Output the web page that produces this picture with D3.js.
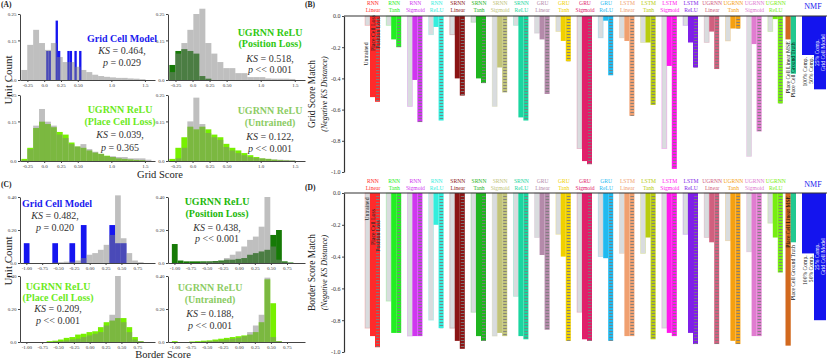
<!DOCTYPE html>
<html><head><meta charset="utf-8">
<script src="https://cdn.jsdelivr.net/npm/d3@7/dist/d3.min.js"></script>
<style>
html,body{margin:0;padding:0;background:#fff;}
svg{display:block;}
text{font-family:"Liberation Serif","Times New Roman",serif;}
</style></head>
<body><svg id="chart" width="830" height="361"></svg>
<script>
// ================= DATA =================
// Histogram axes (panels A and C)
const gridTicks = [-0.25, 0, 0.25, 0.5, 1.0, 1.5];
const gridTickLabels = ["-0.25", "0.0", "0.25", "0.50", "1.0", "1.5"];
const gridYTicks = [0, 0.15, 0.25];
const gridYTickLabels = ["0.0", "0.15", "0.25"];
const borderTicks = [-1, -0.75, -0.5, -0.25, 0, 0.25, 0.5, 0.75];
const borderTickLabels = ["-1.00", "-0.75", "-0.50", "-0.25", "0.00", "0.25", "0.50", "0.75"];
const borderYTicks = [0, 0.2, 0.4];
const borderYTickLabels = ["0.0", "0.20", "0.40"];

// Grid score histograms (bin start, bin width, fraction of units per bin)
const gridBinStart = -0.34, gridBinWidth = 0.088;
const gridRealTL = [0.038,0.133,0.19,0.14,0.114,0.14,0.087,0.068,0.068,0.05,0.038,0.03,0.02,0.015,0.012,0.01,0.008,0.008,0.006,0.005,0.003];
const gridModelBinStart = 0.03, gridModelBinWidth = 0.035;
const gridModelTL = [0.11,0.11,0,0,0.225,0.11,0,0,0,0.11,0.11,0,0.11,0,0.11];
const gridRealTR = [0.03,0.1,0.14,0.19,0.25,0.27,0.14,0.1,0.068,0.045,0.045,0.026,0.026,0.011,0.011,0.011,0.006,0.005,0.005,0.005,0.004];
const gridPositionTR = [0.057,0.11,0.117,0.11,0.1,0.015,0.005];
const gridRealBL = [0.003,0.045,0.134,0.197,0.149,0.134,0.1,0.087,0.064,0.055,0.064,0.045,0.035,0.027,0.018,0.018,0.015,0.015,0.01,0.01,0.01,0.005];
const gridPlaceBL = [0.008,0.05,0.125,0.149,0.14,0.128,0.11,0.1,0.07,0.055,0.05,0.04,0.032,0.027,0.02,0.015,0.01,0.008,0.006,0.004,0.003];
const gridRealBR = [0,0.01,0.05,0.15,0.24,0.14,0.106,0.09,0.08,0.053,0.04,0.03,0.022,0.015,0.012,0.01,0.008,0.006,0.005,0.004,0.003];
const gridUntrainedBR = [0.008,0.05,0.09,0.13,0.12,0.13,0.12,0.1,0.09,0.065,0.05,0.04,0.03,0.022,0.015,0.01,0.008,0.005,0.003,0.002,0.001];

// Border score histograms
const borderBinStart = -1.04, borderBinWidth = 0.09;
const borderRealTL = [0,0,0,0,0,0.003,0.005,0.008,0.008,0.015,0.03,0.05,0.06,0.08,0.11,0.17,0.41,0.15,0.06,0.015,0.005,0];
const borderModelTL = [0.12,0,0,0,0,0.12,0,0,0.12,0,0.23,0,0,0,0,0.23,0.12,0.12,0,0,0,0];
const borderRealTR = [0,0,0,0,0,0.005,0.008,0.01,0.01,0.03,0.05,0.07,0.1,0.14,0.16,0.22,0.40,0.1,0.02,0.005,0,0];
const borderPositionTR = [0.115,0.015,0.01,0.01,0.01,0.01,0.01,0.012,0.015,0.02,0.02,0.025,0.03,0.05,0.06,0.07,0.08,0.17,0.20,0.01,0.003,0];
const borderRealBL = [0,0,0,0,0,0.003,0.005,0.01,0.015,0.02,0.03,0.04,0.05,0.06,0.1,0.165,0.40,0.12,0.06,0.015,0.005,0];
const borderPlaceBL = [0,0,0,0,0.005,0.008,0.015,0.025,0.03,0.045,0.05,0.06,0.065,0.09,0.12,0.13,0.145,0.145,0.09,0.03,0.005,0];
const borderRealBR = [0,0,0,0,0,0.003,0.005,0.008,0.01,0.015,0.02,0.025,0.035,0.06,0.1,0.165,0.39,0.03,0.005,0,0,0];
const borderUntrainedBR = [0.005,0,0,0.003,0.005,0.008,0.01,0.015,0.02,0.025,0.03,0.035,0.04,0.045,0.06,0.12,0.38,0.235,0.005,0,0,0];

// Panels B and D: model categories and match scores (negative KS distance)
const models = ["RNN Linear","RNN Tanh","RNN Sigmoid","RNN ReLU","SRNN Linear","SRNN Tanh","SRNN Sigmoid","SRNN ReLU",
  "GRU Linear","GRU Tanh","GRU Sigmoid","GRU ReLU","LSTM Linear","LSTM Tanh","LSTM Sigmoid","LSTM ReLU",
  "UGRNN Linear","UGRNN Tanh","UGRNN Sigmoid","UGRNN ReLU"];
const modelColors = ["#ff2a2a","#22ee22","#cf36ef","#33eedd","#8b1515","#1fb51f","#c2c47a","#1ad6a0",
  "#b48aaa","#f0d000","#e0206a","#1fbaf0","#f0a070","#b8cc10","#ff18ec","#7f1fe8",
  "#d0607e","#f5a010","#e07cd0","#77ee11"];
const matchTicks = [0, -0.2, -0.4, -0.6, -0.8, -1.0];

const gridUntrained = [-0.06,-0.06,-0.58,-0.12,-0.12,-0.04,-0.58,-0.06,-0.11,-0.10,-0.85,-0.14,-0.14,-0.17,-0.85,-0.06,-0.17,-0.16,-0.90,-0.10];
const gridPlace     = [-0.52,-0.15,-0.41,-0.07,-0.40,-0.40,-0.33,-0.65,-0.15,-0.16,-0.93,-0.03,-0.16,-0.17,-0.32,-0.17,-0.10,-0.08,-0.18,-0.02];
const gridPosition  = [-0.55,-0.20,-0.68,-0.67,-0.51,-0.43,-0.49,-0.67,-0.50,-0.29,-0.95,-0.38,-0.64,-0.57,-0.98,-0.33,-0.34,-0.08,-0.74,-0.56];
const borderUntrained = [-0.85,-0.68,-0.90,-0.80,-0.85,-0.75,-0.90,-0.65,-0.28,-0.26,-0.75,-0.40,-0.38,-0.38,-0.85,-0.26,-0.28,-0.30,-0.37,-0.19];
const borderPlace     = [-0.90,-0.88,-0.90,-0.20,-0.93,-0.90,-0.88,-0.90,-0.39,-0.40,-0.92,-0.41,-0.90,-0.28,-0.88,-0.88,-0.31,-0.93,-0.90,-0.28];
const borderPosition  = [-0.97,-0.88,-0.90,-0.85,-0.98,-0.93,-0.90,-0.92,-0.86,-0.93,-0.93,-0.93,-0.90,-0.92,-0.90,-0.95,-0.95,-0.95,-0.90,-0.50];

const refNames = ["Place Cell Linear MSE", "Place Cell Ground Truth"];
const refColors = ["#d2691e", "#22c890"];
const gridRef = [-0.15, -0.37];
const borderRef = [-0.96, -0.31];
const nmfNames = ["100% Comp.", "50% Comp.", "25% Comp.", "Grid Cell Model"];
const gridNMF = [-0.25, -0.25, -0.47, -0.47];
const borderNMF = [-0.38, -0.38, -0.80, -0.80];

// ================= DRAWING =================
const FONT = '"Liberation Serif","Times New Roman",serif';
const svg = d3.select("#chart");
const GRAY = "#808080";

svg.append("defs").append("pattern").attr("id","hatch").attr("patternUnits","userSpaceOnUse")
  .attr("width", 10).attr("height", 3)
  .append("line").attr("x1",0).attr("x2",10).attr("y1",1.5).attr("y2",1.5)
  .attr("stroke","#7d7d7d").attr("stroke-width",0.9);

function styleAxis(a, size) {
  a.selectAll("text").attr("font-size", size).attr("fill", "#333").attr("font-family", FONT);
  a.select(".domain").attr("stroke", "#444");
  a.selectAll(".tick line").attr("stroke", "#444");
}

function drawHist(p, layers, xDomain, yMax, xt, xtl, yt, ytl) {
  const g = svg.append("g");
  const x = d3.scaleLinear().domain(xDomain).range([p.left, p.right]);
  const y = d3.scaleLinear().domain([0, yMax]).range([p.bottom, p.top]);
  layers.forEach(L => {
    const bins = L.counts.map((c, i) => ({x0: L.start + i * L.width, x1: L.start + (i + 1) * L.width, c}))
      .filter(b => b.c > 0);
    g.append("g").selectAll("rect").data(bins).join("rect")
      .attr("x", b => x(b.x0)).attr("width", b => Math.max(0, x(b.x1) - x(b.x0)))
      .attr("y", b => y(b.c)).attr("height", b => y(0) - y(b.c))
      .attr("fill", L.color).attr("fill-opacity", L.opacity);
  });
  const xa = g.append("g").attr("transform", `translate(0,${p.bottom})`)
    .call(d3.axisBottom(x).tickValues(xt).tickFormat((d, i) => xtl[i]).tickSize(2).tickSizeOuter(0).tickPadding(1.5));
  const ya = g.append("g").attr("transform", `translate(${p.left},0)`)
    .call(d3.axisLeft(y).tickValues(yt).tickFormat((d, i) => ytl[i]).tickSize(2).tickSizeOuter(0).tickPadding(1.5));
  styleAxis(xa, 5); styleAxis(ya, 5);
}

function statText(x, anchor, ys, titleLines, color, ks, pPart, titleAnchorX, titleAnchor) {
  const g = svg.append("g").attr("font-family", FONT);
  titleLines.forEach((t, i) => {
    g.append("text").attr("x", titleAnchorX ?? x).attr("y", ys[i]).attr("text-anchor", titleAnchor ?? anchor)
      .attr("font-size", 10).attr("font-weight", "bold").attr("fill", color).text(t);
  });
  const k = g.append("text").attr("x", x).attr("y", ys[titleLines.length]).attr("text-anchor", anchor)
    .attr("font-size", 10).attr("fill", "#333");
  k.append("tspan").attr("font-style", "italic").text("KS");
  k.append("tspan").text(" = " + ks + ",");
  const pt = g.append("text").attr("x", x).attr("y", ys[titleLines.length + 1]).attr("text-anchor", anchor)
    .attr("font-size", 10).attr("fill", "#333");
  pt.append("tspan").attr("font-style", "italic").text("p");
  pt.append("tspan").text(" " + pPart);
}

const A = {TL:{left:20,right:155,top:14,bottom:80}, TR:{left:168,right:305,top:14,bottom:80},
           BL:{left:20,right:155,top:95,bottom:161}, BR:{left:168,right:305,top:95,bottom:161}};
const C = {TL:{left:20,right:155,top:197,bottom:263}, TR:{left:168,right:305,top:197,bottom:263},
           BL:{left:20,right:155,top:276,bottom:342}, BR:{left:168,right:305,top:276,bottom:342}};
const gDom = [-0.36, 1.65], bDom = [-1.1, 1.03];
const BLUE = "#1515f0", DKGREEN = "#167a06", LGREEN = "#77f000";

function gl(counts, color, op) { return {start: gridBinStart, width: gridBinWidth, counts, color, opacity: op}; }
function bl(counts, color, op) { return {start: borderBinStart, width: borderBinWidth, counts, color, opacity: op}; }

drawHist(A.TL, [{start: gridModelBinStart, width: gridModelBinWidth, counts: gridModelTL, color: BLUE, opacity: 1}, gl(gridRealTL, GRAY, 0.5)],
  gDom, 0.25, gridTicks, gridTickLabels, gridYTicks, gridYTickLabels);
drawHist(A.TR, [gl(gridPositionTR, DKGREEN, 1), gl(gridRealTR, GRAY, 0.5)], gDom, 0.25, gridTicks, gridTickLabels, gridYTicks, gridYTickLabels);
drawHist(A.BL, [gl(gridPlaceBL, LGREEN, 1), gl(gridRealBL, GRAY, 0.5)], gDom, 0.25, gridTicks, gridTickLabels, gridYTicks, gridYTickLabels);
drawHist(A.BR, [gl(gridUntrainedBR, LGREEN, 1), gl(gridRealBR, GRAY, 0.5)], gDom, 0.25, gridTicks, gridTickLabels, gridYTicks, gridYTickLabels);

drawHist(C.TL, [bl(borderModelTL, BLUE, 1), bl(borderRealTL, GRAY, 0.5)], bDom, 0.4, borderTicks, borderTickLabels, borderYTicks, borderYTickLabels);
drawHist(C.TR, [bl(borderPositionTR, DKGREEN, 1), bl(borderRealTR, GRAY, 0.5)], bDom, 0.4, borderTicks, borderTickLabels, borderYTicks, borderYTickLabels);
drawHist(C.BL, [bl(borderPlaceBL, LGREEN, 1), bl(borderRealBL, GRAY, 0.5)], bDom, 0.4, borderTicks, borderTickLabels, borderYTicks, borderYTickLabels);
drawHist(C.BR, [bl(borderUntrainedBR, LGREEN, 1), bl(borderRealBR, GRAY, 0.5)], bDom, 0.4, borderTicks, borderTickLabels, borderYTicks, borderYTickLabels);

// annotations
statText(122, "middle", [41.5, 53.5, 65.5], ["Grid Cell Model"], "#1a1aee", "0.464", "= 0.029");
statText(270, "middle", [35.5, 47, 62, 73], ["UGRNN ReLU", "(Position Loss)"], "#2fc812", "0.518", "<< 0.001");
statText(120, "middle", [112.5, 124.5, 137.5, 150.5], ["UGRNN ReLU", "(Place Cell Loss)"], "#6cea1c", "0.039", "= 0.365");
statText(270, "middle", [113.5, 125.5, 139.5, 151.5], ["UGRNN ReLU", "(Untrained)"], "#8ccc64", "0.122", "<< 0.001");
statText(55, "middle", [206.5, 218.5, 230.5], ["Grid Cell Model"], "#1a1aee", "0.482", "= 0.020", 22, "start");
statText(217, "middle", [204.5, 216.5, 231, 242], ["UGRNN ReLU", "(Position Loss)"], "#22b80a", "0.438", "<< 0.001");
statText(58, "middle", [289.5, 300.5, 312, 323.5], ["UGRNN ReLU", "(Place Cell Loss)"], "#6cea1c", "0.209", "<< 0.001");
statText(210, "middle", [291, 303, 317, 329], ["UGRNN ReLU", "(Untrained)"], "#8ccc64", "0.188", "<< 0.001");

// axis titles for A / C
function rotText(x, y, txt, size, opts = {}) {
  const t = svg.append("text").attr("transform", `translate(${x},${y}) rotate(-90)`)
    .attr("text-anchor", opts.anchor || "middle").attr("dy", opts.dy || "0.35em")
    .attr("font-size", size).attr("font-family", FONT).attr("fill", opts.fill || "#222")
    .attr("font-style", opts.italic ? "italic" : null).attr("font-weight", opts.bold ? "bold" : null).text(txt);
  return t;
}
rotText(8, 80, "Unit Count", 11);
rotText(8, 261, "Unit Count", 11);
svg.append("text").attr("x", 160).attr("y", 178).attr("text-anchor", "middle").attr("font-size", 10.5).attr("fill", "#222").text("Grid Score");
svg.append("text").attr("x", 163).attr("y", 358).attr("text-anchor", "middle").attr("font-size", 10.5).attr("fill", "#222").text("Border Score");

// panel letters
[["(A)", 1, 7], ["(C)", 1, 187], ["(B)", 305, 7], ["(D)", 305, 190]].forEach(([t, x, y]) =>
  svg.append("text").attr("x", x).attr("y", y).attr("font-size", 7.5).attr("font-weight", "bold").attr("fill", "#222").text(t));

// ---------- Match panels B / D ----------
const xBand = d3.scaleBand().domain(models).range([362.4, 786.4]);
const sub = d3.scaleBand().domain(["u", "p", "q"]).range([-8, 7]);
const refBand = d3.scaleBand().domain(refNames).range([785.5, 796]);
const nmfBand = d3.scaleBand().domain(nmfNames).range([802, 826]);

function drawMatch(top, bottom, U, P, Q, ref, nmf, lab1, lab2, title) {
  const g = svg.append("g");
  const y = d3.scaleLinear().domain([-1, 0]).range([bottom, top]);
  const cx = m => xBand(m) + xBand.bandwidth() / 2;
  const idx = m => models.indexOf(m);
  // untrained
  g.append("g").selectAll("rect").data(models).join("rect")
    .attr("x", m => cx(m) + sub("u")).attr("width", sub.bandwidth())
    .attr("y", y(0)).attr("height", m => y(U[idx(m)]) - y(0))
    .attr("fill", "#d9dcde").attr("stroke", m => modelColors[idx(m)]).attr("stroke-opacity", 0.25).attr("stroke-width", 0.8);
  // place-cell loss
  g.append("g").selectAll("rect").data(models).join("rect")
    .attr("x", m => cx(m) + sub("p")).attr("width", sub.bandwidth())
    .attr("y", y(0)).attr("height", m => y(P[idx(m)]) - y(0))
    .attr("fill", m => modelColors[idx(m)]);
  // position loss (hatched)
  g.append("g").selectAll("rect").data(models).join("rect")
    .attr("x", m => cx(m) + sub("q")).attr("width", sub.bandwidth())
    .attr("y", y(0)).attr("height", m => y(Q[idx(m)]) - y(0))
    .attr("fill", m => modelColors[idx(m)]);
  g.append("g").selectAll("rect").data(models).join("rect")
    .attr("x", m => cx(m) + sub("q") + 1).attr("width", sub.bandwidth() - 1.5)
    .attr("y", y(0) + 1).attr("height", m => Math.max(0, y(Q[idx(m)]) - y(0) - 1))
    .attr("fill", "url(#hatch)");
  // reference bars
  g.append("g").selectAll("rect").data(refNames).join("rect")
    .attr("x", r => refBand(r)).attr("width", refBand.bandwidth())
    .attr("y", y(0)).attr("height", (r, i) => y(ref[i]) - y(0))
    .attr("fill", (r, i) => refColors[i]);
  // NMF bars
  g.append("g").selectAll("rect").data(nmfNames).join("rect")
    .attr("x", r => nmfBand(r)).attr("width", nmfBand.bandwidth())
    .attr("y", y(0)).attr("height", (r, i) => y(nmf[i]) - y(0))
    .attr("fill", "#1414ee");
  // column labels
  const lt = g.append("g").selectAll("text").data(models).join("text")
    .attr("x", m => cx(m)).attr("text-anchor", "middle").attr("font-size", 5.6)
    .attr("font-family", FONT).attr("fill", m => modelColors[idx(m)]);
  lt.append("tspan").attr("x", m => cx(m)).attr("y", lab1).text(m => m.split(" ")[0]);
  lt.append("tspan").attr("x", m => cx(m)).attr("y", lab2).text(m => m.split(" ")[1]);
  g.append("text").attr("x", 813).attr("y", lab2 - 3).attr("text-anchor", "middle").attr("font-size", 8)
    .attr("fill", "#2020ee").text("NMF");
  // axes
  const ya = g.append("g").attr("transform", "translate(344,0)")
    .call(d3.axisLeft(y).tickValues(matchTicks).tickFormat(d => d === 0 ? "0.0" : d.toFixed(1)).tickSize(2).tickSizeOuter(0).tickPadding(1.5));
  styleAxis(ya, 6);
  ya.select(".domain").attr("stroke", "#333").attr("stroke-width", 1.2);
  g.append("line").attr("x1", 344).attr("x2", 827).attr("y1", y(0)).attr("y2", y(0)).attr("stroke", "#333").attr("stroke-width", 1.2);
  // y titles
  rotText(312, (top + bottom) / 2, title, 9.5);
  rotText(324, (top + bottom) / 2, "(Negative KS Distance)", 8, {italic: true});
  return y;
}

const yB = drawMatch(16, 172, gridUntrained, gridPlace, gridPosition, gridRef, gridNMF, 5, 12, "Grid Score Match");
const yD = drawMatch(193, 352, borderUntrained, borderPlace, borderPosition, borderRef, borderNMF, 183, 190, "Border Score Match");

// in-panel rotated notes
const note = 5.8;
rotText(366, 54, "Untrained", note);
rotText(373, 33, "Place Cell Loss", note);
rotText(378, 33, "Position Loss", note);
rotText(367, 209, "Untrained", note);
rotText(373, 227, "Place Cell Loss", note);
rotText(378, 236, "Position Loss", note);

// reference-bar labels
rotText(refBand(refNames[0]) + 2.5, yB(gridRef[0]) + 2, refNames[0], 5.6, {anchor: "end", fill: "#111"});
rotText(refBand(refNames[1]) + 2.5, yB(gridRef[0]) + 3, refNames[1], 5.6, {anchor: "end", fill: "#111"});
rotText(refBand(refNames[0]) + 2.5, yD(0) + 3, refNames[0], 5.6, {anchor: "end", fill: "#111"});
rotText(refBand(refNames[1]) + 2.5, yD(borderRef[1]) + 3, refNames[1], 5.6, {anchor: "end", fill: "#111"});
[[yB, gridNMF], [yD, borderNMF]].forEach(([y, nmf]) => {
  rotText(nmfBand(nmfNames[0]) + 3, y(nmf[0]) + 2, nmfNames[0], 5.6, {anchor: "end", fill: "#111"});
  rotText(nmfBand(nmfNames[1]) + 3, y(nmf[1]) + 2, nmfNames[1], 5.6, {anchor: "end", fill: "#111"});
  rotText(nmfBand(nmfNames[2]) + 3, (y(0) + y(nmf[2])) / 2, nmfNames[2], 5.6, {fill: "#fff"});
  rotText(nmfBand(nmfNames[3]) + 3, (y(0) + y(nmf[3])) / 2, nmfNames[3], 5.6, {fill: "#fff"});
});
</script></body></html>
